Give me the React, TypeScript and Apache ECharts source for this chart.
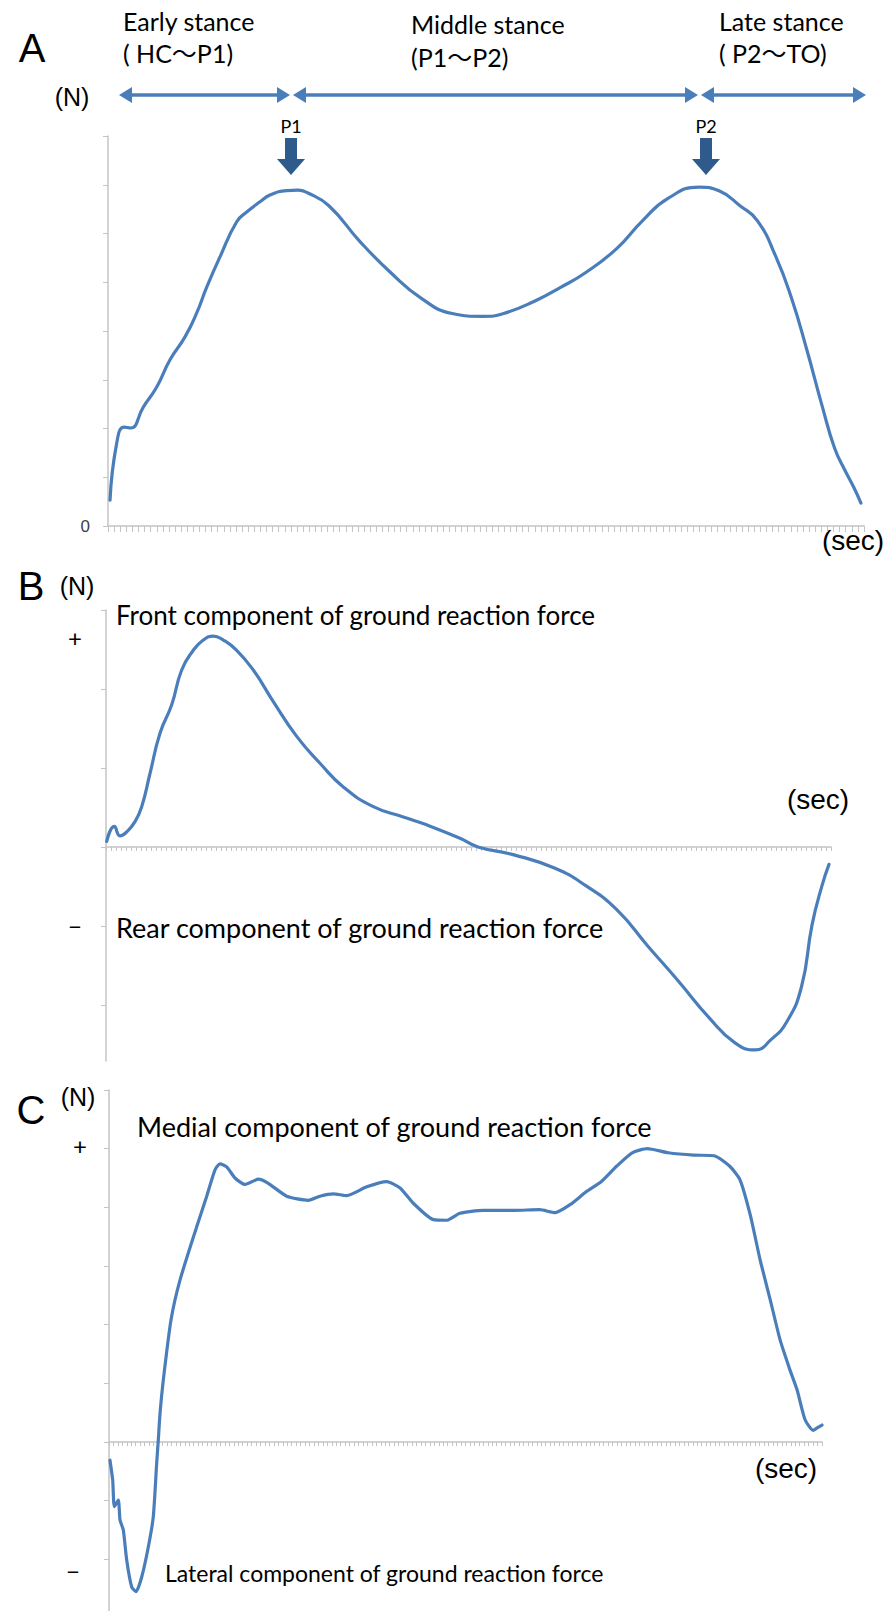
import React, { useEffect, useRef } from 'react';
import * as echarts from 'echarts';

// ---------- data (x in axis tick units, y in axis units) ----------
const aTime = [0.33, 1.43, 2.62, 3.72, 5.79, 7.99, 10.17, 12.63, 14.55, 16.19, 18.37, 21.11, 22.75, 24.93, 26.57, 29.31, 31.16, 32.8, 36.23, 41.29, 46.35, 51.4, 56.46, 61.52, 64.89, 69.95, 74.17, 78.37, 83.43, 87.65, 91.85, 96.92, 100.3, 103.66, 106.53, 109.56, 112.09, 114.61, 117.14, 119.17, 120.85, 122.3, 123.5];
const aForce = [0.53, 1.7, 2.03, 2.01, 2.44, 2.85, 3.41, 3.88, 4.37, 4.9, 5.52, 6.24, 6.44, 6.65, 6.79, 6.88, 6.89, 6.83, 6.57, 5.84, 5.2, 4.67, 4.36, 4.3, 4.36, 4.61, 4.89, 5.2, 5.69, 6.26, 6.72, 6.95, 6.87, 6.57, 6.26, 5.52, 4.68, 3.62, 2.46, 1.6, 1.15, 0.8, 0.47];

const bTime = [0.14, 1.66, 2.8, 4.14, 5.8, 7.14, 8.8, 10.8, 13.14, 15.14, 17.46, 19.46, 21.46, 23.46, 26.14, 29.46, 33.46, 38.14, 42.8, 47.46, 53.46, 59.46, 64.14, 70.8, 74.4, 81.6, 89.8, 95.96, 102.1, 108.3, 114.5, 120.6, 125.8, 129.9, 133.0, 136.1, 139.1, 141.2, 143.2, 144.6];
const bForce = [0.07, 0.26, 0.14, 0.19, 0.32, 0.51, 0.93, 1.44, 1.8, 2.24, 2.49, 2.62, 2.67, 2.62, 2.49, 2.24, 1.84, 1.4, 1.06, 0.76, 0.51, 0.38, 0.28, 0.11, 0.0, -0.1, -0.27, -0.49, -0.79, -1.25, -1.7, -2.16, -2.48, -2.57, -2.44, -2.22, -1.77, -0.99, -0.49, -0.22];

const cTime = [0.22, 0.83, 1.19, 2.09, 2.47, 3.21, 3.97, 5.09, 6.06, 7.34, 8.82, 9.94, 10.7, 11.06, 11.45, 12.19, 13.91, 15.93, 19.68, 21.93, 23.79, 24.91, 26.41, 28.28, 30.52, 33.51, 35.75, 39.88, 44.73, 47.35, 50.34, 53.34, 57.83, 62.32, 65.31, 68.29, 72.78, 75.79, 78.77, 83.93, 90.89, 96.63, 100.09, 103.55, 107.0, 110.5, 113.9, 117.4, 120.8, 125.5, 131.2, 135.8, 139.3, 141.6, 143.9, 146.1, 148.4, 150.6, 152.8, 154.4, 156.2, 158.0, 158.9, 160.0];
const cForce = [-0.31, -0.65, -1.1, -0.99, -1.33, -1.5, -2.01, -2.47, -2.55, -2.3, -1.79, -1.27, -0.36, 0.03, 0.49, 1.06, 2.08, 2.76, 3.67, 4.19, 4.64, 4.74, 4.69, 4.5, 4.39, 4.48, 4.41, 4.19, 4.12, 4.19, 4.23, 4.2, 4.35, 4.44, 4.33, 4.07, 3.79, 3.78, 3.9, 3.95, 3.95, 3.96, 3.91, 4.05, 4.26, 4.44, 4.7, 4.93, 5.0, 4.93, 4.89, 4.88, 4.7, 4.47, 3.87, 3.11, 2.42, 1.74, 1.23, 0.89, 0.38, 0.2, 0.24, 0.29];

const aTickCount = 124;
const bTickCount = 145;
const cTickCount = 160;
const aYMax = 8;
const bYMax = 3;
const bYMin = -2.71;
const cYMax = 6;
const cYMin = -2.88;
const bYTicks = [-2, -1, 0, 1, 2, 3];
const cYTicks = [-2, -1, 0, 1, 2, 3, 4, 5, 6];

const panelLetters = ['A', 'B', 'C'];
const phaseTitles = ['Early stance', 'Middle stance', 'Late stance'];
const phaseRanges = ['( HC〜P1)', '(P1〜P2)', '( P2〜TO)'];
const peakLabels = ['P1', 'P2'];
const forceUnit = '(N)';
const timeUnit = '(sec)';
const componentLabels = [
  'Front component of ground reaction force',
  'Rear component of ground reaction force',
  'Medial component of ground reaction force',
  'Lateral component of ground reaction force',
];
const signLabels = ['+', '−'];

// ---------- styling ----------
const LINE = '#4a7ebb';
const AXIS = '#c4c4c4';
const ARROW = '#4a7ebb';
const BLOCK = '#2f5a8c';
const SANS = '"Liberation Sans", Arial, sans-serif';
const CAL = 'Lato, "Noto Sans CJK JP", sans-serif';

function txt(text: string, x: number, y: number, size: number, family: string, align = 'left', color = '#000') {
  return {
    type: 'text',
    x,
    y,
    silent: true,
    style: {
      text,
      fill: color,
      fontSize: size,
      fontFamily: family,
      textAlign: align,
      align,
      textVerticalAlign: 'middle',
      verticalAlign: 'middle',
    },
  };
}

function dblArrow(x1: number, x2: number, y: number) {
  const hl = 13;
  const hw = 8;
  return [
    { type: 'line', silent: true, shape: { x1: x1 + hl - 2, y1: y, x2: x2 - hl + 2, y2: y }, style: { stroke: ARROW, lineWidth: 3.5 } },
    { type: 'polygon', silent: true, shape: { points: [[x1, y], [x1 + hl, y - hw], [x1 + hl, y + hw]] }, style: { fill: ARROW } },
    { type: 'polygon', silent: true, shape: { points: [[x2, y], [x2 - hl, y - hw], [x2 - hl, y + hw]] }, style: { fill: ARROW } },
  ];
}

function downArrow(cx: number) {
  return {
    type: 'polygon',
    silent: true,
    shape: {
      points: [[cx - 6, 138], [cx + 6, 138], [cx + 6, 159], [cx + 14, 159], [cx, 175], [cx - 14, 159], [cx - 6, 159]],
    },
    style: { fill: BLOCK },
  };
}

function xAxisCfg(gridIndex: number, max: number, tickLen: number) {
  return {
    type: 'value',
    gridIndex,
    min: 0,
    max,
    interval: 1,
    axisLine: { show: true, onZero: true, lineStyle: { color: AXIS, width: 1.5 } },
    axisTick: { show: true, length: tickLen, inside: false, lineStyle: { color: AXIS, width: 1 } },
    axisLabel: { show: false },
    splitLine: { show: false },
  };
}

function lineSeries(xi: number, times: number[], vals: number[], smooth: number) {
  return {
    type: 'line',
    xAxisIndex: xi,
    yAxisIndex: xi,
    data: times.map((t, i) => [t, vals[i]]),
    showSymbol: false,
    smooth,
    silent: true,
    lineStyle: { color: LINE, width: 3.2, cap: 'round', join: 'round' },
    itemStyle: { color: LINE },
  };
}

export default function App() {
  const ref = useRef<HTMLDivElement>(null);
  useEffect(() => {
    if (!ref.current) return;
    const chart = echarts.init(ref.current, null, { renderer: 'svg' });
    const option: any = {
      animation: false,
      backgroundColor: '#fff',
      grid: [
        { left: 108, top: 136, width: 756, height: 390 },
        { left: 106, top: 610, width: 725, height: 451 },
        { left: 109, top: 1090, width: 713, height: 521 },
      ],
      xAxis: [xAxisCfg(0, aTickCount, 6), xAxisCfg(1, bTickCount, 4), xAxisCfg(2, cTickCount, 4)],
      yAxis: [
        {
          type: 'value',
          gridIndex: 0,
          min: 0,
          max: aYMax,
          interval: 1,
          axisLine: { show: true, lineStyle: { color: AXIS, width: 1.5 } },
          axisTick: { show: true, length: 5, lineStyle: { color: AXIS } },
          axisLabel: {
            show: true,
            margin: 18,
            fontSize: 17,
            fontFamily: SANS,
            color: '#404040',
            formatter: (v: number) => (v === 0 ? '0' : ''),
          },
          splitLine: { show: false },
        },
        {
          type: 'value',
          gridIndex: 1,
          min: bYMin,
          max: bYMax,
          axisLine: { show: true, onZero: false, lineStyle: { color: AXIS, width: 1.5 } },
          axisTick: { show: true, length: 5, lineStyle: { color: AXIS }, customValues: bYTicks },
          axisLabel: { show: false },
          splitLine: { show: false },
        },
        {
          type: 'value',
          gridIndex: 2,
          min: cYMin,
          max: cYMax,
          axisLine: { show: true, onZero: false, lineStyle: { color: AXIS, width: 1.5 } },
          axisTick: { show: true, length: 5, lineStyle: { color: AXIS }, customValues: cYTicks },
          axisLabel: { show: false },
          splitLine: { show: false },
        },
      ],
      series: [
        lineSeries(0, aTime, aForce, 0.5),
        lineSeries(1, bTime, bForce, 0.5),
        lineSeries(2, cTime, cForce, 0.2),
      ],
      graphic: [
        // panel letters
        txt(panelLetters[0], 32, 48, 40, SANS, 'center'),
        txt(panelLetters[1], 31, 586, 40, SANS, 'center'),
        txt(panelLetters[2], 31, 1110, 40, SANS, 'center'),
        // phases
        txt(phaseTitles[0], 123, 21, 25, CAL),
        txt(phaseRanges[0], 123, 53, 25, CAL),
        txt(phaseTitles[1], 411, 24, 25, CAL),
        txt(phaseRanges[1], 411, 57, 25, CAL),
        txt(phaseTitles[2], 719, 21, 25, CAL),
        txt(phaseRanges[2], 719, 53, 25, CAL),
        ...dblArrow(119, 290, 95),
        ...dblArrow(293, 698, 95),
        ...dblArrow(701, 866, 95),
        // peaks
        txt(peakLabels[0], 291, 126, 18, CAL, 'center'),
        txt(peakLabels[1], 706, 126, 18, CAL, 'center'),
        downArrow(291),
        downArrow(706),
        // units
        txt(forceUnit, 72, 97, 25, SANS, 'center'),
        txt(forceUnit, 77, 586, 25, SANS, 'center'),
        txt(forceUnit, 78, 1097, 25, SANS, 'center'),
        txt(timeUnit, 853, 540, 28, SANS, 'center'),
        txt(timeUnit, 818, 799, 28, SANS, 'center'),
        txt(timeUnit, 786, 1468, 28, SANS, 'center'),
        // component labels
        txt(componentLabels[0], 116, 615, 26, CAL),
        txt(componentLabels[1], 116, 927, 27, CAL),
        txt(componentLabels[2], 137, 1126, 27, CAL),
        txt(componentLabels[3], 165, 1573, 23, CAL),
        // signs
        txt(signLabels[0], 75, 637, 24, CAL, 'center'),
        txt(signLabels[1], 75, 925, 24, CAL, 'center'),
        txt(signLabels[0], 80, 1145, 24, CAL, 'center'),
        txt(signLabels[1], 73, 1570, 24, CAL, 'center'),
      ],
    };
    chart.setOption(option);
    return () => chart.dispose();
  }, []);
  return (
    <div
      ref={ref}
      style={{ position: 'fixed', left: 0, top: 0, width: 887, height: 1611, background: '#fff' }}
    />
  );
}
